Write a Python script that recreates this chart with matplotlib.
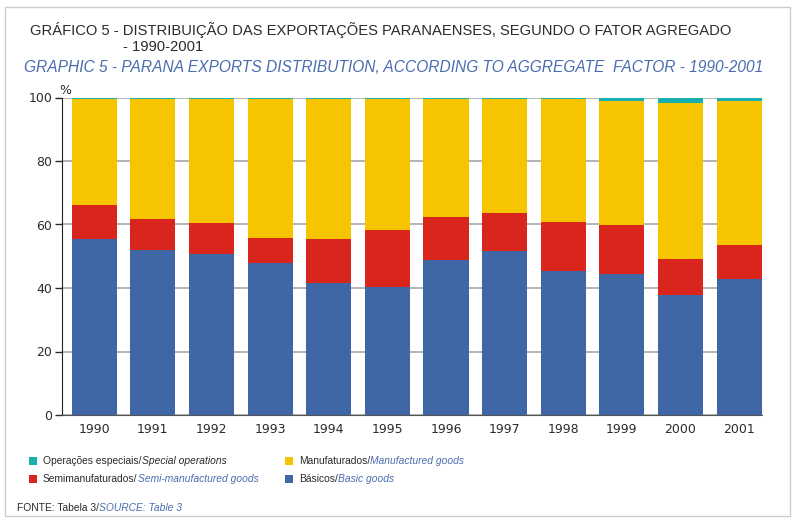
import numpy as np
import matplotlib.pyplot as plt
import matplotlib.patches as patches

years = ['1990', '1991', '1992', '1993', '1994', '1995',
         '1996', '1997', '1998', '1999', '2000', '2001']
basicos = [55.4, 52.1, 50.8, 47.9, 41.6, 40.3, 48.9, 51.7, 45.4, 44.5, 37.8, 42.8]
semimanuf = [10.7, 9.6, 9.7, 7.8, 13.8, 18.0, 13.5, 11.9, 15.4, 15.3, 11.3, 10.7]
manuf = [33.3, 37.7, 38.9, 43.7, 44.0, 41.1, 37.0, 35.8, 38.6, 39.1, 49.2, 45.4]
especiais = [0.6, 0.6, 0.6, 0.6, 0.6, 0.6, 0.6, 0.6, 0.6, 1.1, 1.7, 1.1]

c_teal = '#17b0ae'
c_yellow = '#f7c400'
c_red = '#da251d'
c_blue = '#3f67a6'
c_text = '#2b2b2b'
c_link = '#4a6db0'

narrow = ['Liberation Sans', 'DejaVu Sans']
plt.rcParams['font.family'] = ['DejaVu Sans']

fig = plt.figure(figsize=(7.95, 5.22), dpi=100)
ax = fig.add_axes([62/795, 1 - 415/522, (762-62)/795, (415-97.5)/522])

x = np.arange(len(years))
w = 0.77
b = np.array(basicos)
s = np.array(semimanuf)
m = np.array(manuf)
ax.bar(x, b, w, color=c_blue, zorder=3)
ax.bar(x, s, w, bottom=b, color=c_red, zorder=3)
ax.bar(x, m, w, bottom=b + s, color=c_yellow, zorder=3)
ax.bar(x, especiais, w, bottom=b + s + m, color=c_teal, zorder=3)

ax.set_xlim(-0.55, 11.39)
ax.set_ylim(0, 100)
ax.set_yticks([0, 20, 40, 60, 80, 100])
ax.set_xticks(x)
ax.set_xticklabels(years)
ax.tick_params(axis='y', length=5, width=1, labelsize=9, colors=c_text, pad=2)
ax.tick_params(axis='x', length=0, labelsize=9, colors=c_text, pad=6)
ax.grid(axis='y', color='#a8a8a8', linewidth=1.2, zorder=0)
for sp in ['top', 'right']:
    ax.spines[sp].set_visible(False)
ax.spines['bottom'].set_color('#555555')
ax.spines['left'].set_color('#222222')
ax.text(0.005, 100.3, '%', transform=ax.get_yaxis_transform(), fontsize=9,
        color=c_text, ha='center', va='bottom')

# border around the whole figure
fig.patches.append(patches.Rectangle((5/795, 1 - 516/522), 785/795, 509/522,
                   transform=fig.transFigure, fill=False, edgecolor='#cccccc', linewidth=1))

fig.text(30/795, 1 - 30/522, 'GRÁFICO 5 - DISTRIBUIÇÃO DAS EXPORTAÇÕES PARANAENSES, SEGUNDO O FATOR AGREGADO',
         fontsize=10.6, color=c_text, va='center', family=narrow)
fig.text(123/795, 1 - 47/522, '- 1990-2001', fontsize=10.6, color=c_text, va='center', family=narrow)
fig.text(24/795, 1 - 67/522, 'GRAPHIC 5 - PARANA EXPORTS DISTRIBUTION, ACCORDING TO AGGREGATE  FACTOR - 1990-2001',
         fontsize=11.2, color=c_link, style='italic', va='center', family=narrow)

# legend
items = [
    (29, 461, c_teal, 'Operações especiais/', 'Special operations', c_text),
    (285, 461, c_yellow, 'Manufaturados/', 'Manufactured goods', c_link),
    (29, 479, c_red, 'Semimanufaturados/', 'Semi-manufactured goods', c_link),
    (285, 479, c_blue, 'Básicos/', 'Basic goods', c_link),
]
for px, py, col, pt, en, en_col in items:
    fig.patches.append(patches.Rectangle((px/795, 1 - (py + 4)/522), 8/795, 8/522,
                       transform=fig.transFigure, facecolor=col, edgecolor='none'))
    t = fig.text((px + 14)/795, 1 - py/522, pt, fontsize=7.4, color=c_text, va='center', family=narrow)
    fig.canvas.draw()
    bb = t.get_window_extent()
    fig.text(bb.x1/795, 1 - py/522, en, fontsize=7.4, color=en_col, style='italic', va='center', family=narrow)

t = fig.text(17/795, 1 - 508/522, 'FONTE: Tabela 3/', fontsize=7.4, color=c_text, va='center', family=narrow)
fig.canvas.draw()
bb = t.get_window_extent()
fig.text(bb.x1/795, 1 - 508/522, 'SOURCE: Table 3', fontsize=7.4, color=c_link, style='italic', va='center', family=narrow)

fig.savefig('out.png', dpi=100)
